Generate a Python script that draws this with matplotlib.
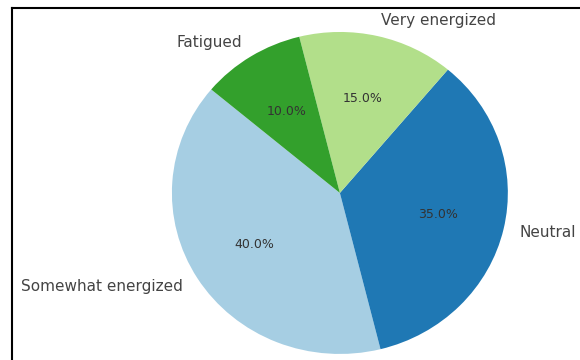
import matplotlib
matplotlib.use('Agg')
import matplotlib.pyplot as plt
from matplotlib.lines import Line2D

labels = ['Somewhat energized', 'Neutral', 'Very energized', 'Fatigued']
shares = [40, 35, 15, 10]


def main():
    fig = plt.figure(figsize=(5.8, 3.6), dpi=100)
    # pie axes: slightly wider than tall, circle fills most of the height
    ax = fig.add_axes([0.224, -0.095, 0.724, 1.118])
    colors = plt.cm.Paired(range(len(shares)))
    wedges, texts, autotexts = ax.pie(shares, labels=labels, colors=colors,
                                      autopct='%1.1f%%', startangle=140,
                                      textprops={'fontsize': 11, 'color': '#444444'})
    for t in autotexts:
        t.set_color('#333333')
        t.set_fontsize(9)
    ax.set_xlim(-1.25, 1.25)
    ax.set_ylim(-1.25, 1.25)
    ax.set_aspect('auto')

    # frame lines along top and left
    fig.add_artist(Line2D([12 / 580, 12 / 580], [0, 1 - 8 / 360], color='black', lw=1.5,
                          transform=fig.transFigure))
    fig.add_artist(Line2D([12 / 580, 1], [1 - 8 / 360, 1 - 8 / 360], color='black', lw=1.5,
                          transform=fig.transFigure))

    plt.savefig('out.png', dpi=100)


if __name__ == "__main__":
    main()
